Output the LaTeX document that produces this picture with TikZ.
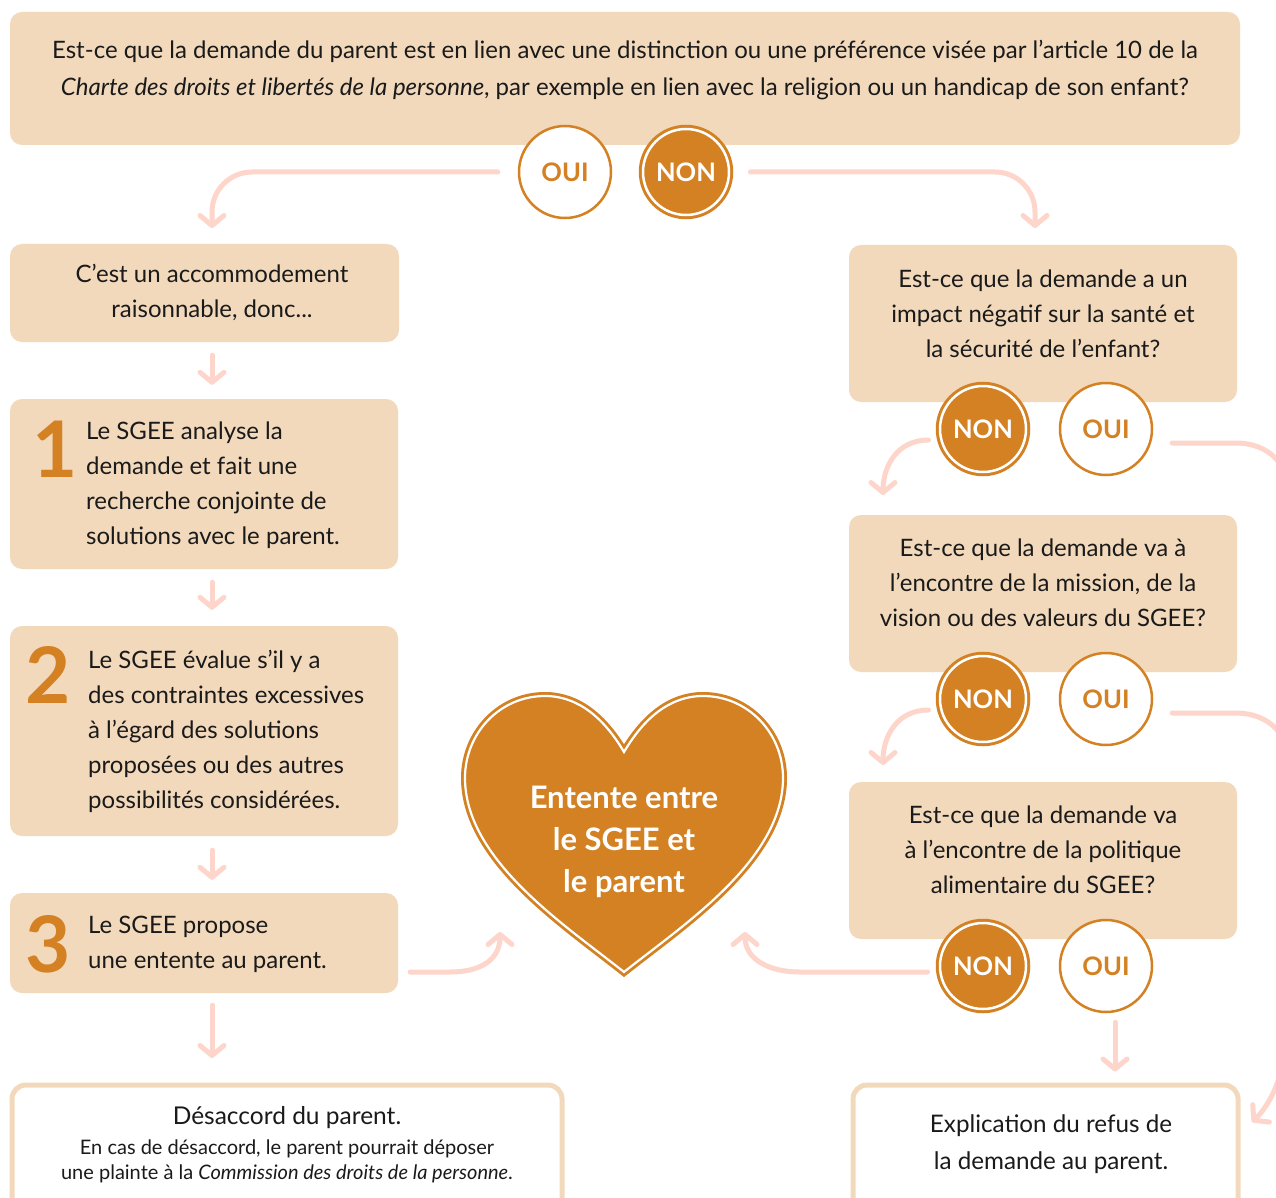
\documentclass[tikz,border=0pt]{standalone}
\usepackage{fontspec}
\setmainfont{Lato}
\usetikzlibrary{arrows.meta}
\definecolor{peach}{HTML}{F2D9BC}
\definecolor{ochre}{HTML}{D48123}
\definecolor{blush}{HTML}{FDD5CB}
\definecolor{ink}{HTML}{1A1A1A}

\begin{document}
\begin{tikzpicture}[x=1pt,y=-1pt,
  card/.style={fill=peach, draw=none, rounded corners=12pt, inner sep=0pt},
  outcard/.style={fill=white, draw=peach, line width=5pt, rounded corners=14pt, inner sep=0pt},
  txt/.style={text=ink, font=\fontsize{24}{35}\selectfont, inner sep=0pt, align=center},
  steptxt/.style={text=ink, font=\fontsize{24}{35}\selectfont, inner sep=0pt, align=left, anchor=west},
  bignum/.style={text=ochre, font=\fontsize{78}{78}\selectfont\bfseries, inner sep=0pt},
  yesmark/.style={circle, minimum size=92pt, inner sep=0pt, fill=white, draw=ochre, line width=2.5pt,
    text=ochre, font=\fontsize{25.5}{25}\selectfont\bfseries},
  nomark/.style={circle, minimum size=86pt, inner sep=0pt, fill=ochre, draw=ochre, double=white,
    double distance=2.5pt, line width=3pt, text=white, font=\fontsize{25.5}{25}\selectfont\bfseries},
  flow/.style={draw=blush, line width=5pt, line cap=round, line join=round,
    -{Straight Barb[length=10pt,width=24pt,round]}},
  trail/.style={draw=blush, line width=5pt, line cap=round, line join=round},
]
\useasboundingbox (0,0) rectangle (1276,1198);
\clip (0,0) rectangle (1276,1198);
\fill[white] (0,0) rectangle (1276,1198);

% ---------- main question ----------
\node[card, minimum width=1230pt, minimum height=133pt] (top) at (625,78.5) {};
\node[txt, font=\fontsize{24}{37}\selectfont] (toptxt) at (625,70) {Est-ce que la demande du parent est en lien avec une distinction ou une préférence visée par l’article 10 de la\\
\textit{Charte des droits et libertés de la personne}, par exemple en lien avec la religion ou un handicap de son enfant?};
\node[yesmark] (yes0) at (565,172) {OUI};
\node[nomark] (no0) at (686,172) {NON};

% ---------- left column: accommodation steps ----------
\node[card, minimum width=389pt, minimum height=98pt] (boxa) at (204.5,293) {};
\node[txt] (boxatxt) at (212,292) {C’est un accommodement\\ raisonnable, donc...};

\node[card, minimum width=388pt, minimum height=170pt] (box1) at (204,484) {};
\node[bignum] (n1) at (55,449) {1};
\node[steptxt] (box1txt) at (86,485.5) {Le SGEE analyse la\\ demande et fait une\\ recherche conjointe de\\ solutions avec le parent.};

\node[card, minimum width=388pt, minimum height=210pt] (box2) at (204,731) {};
\node[bignum] (n2) at (48,675) {2};
\node[steptxt] (box2txt) at (88,731) {Le SGEE évalue s’il y a\\ des contraintes excessives\\ à l’égard des solutions\\ proposées ou des autres\\ possibilités considérées.};

\node[card, minimum width=388pt, minimum height=100pt] (box3) at (204,943) {};
\node[bignum] (n3) at (48,944) {3};
\node[steptxt] (box3txt) at (88,944.5) {Le SGEE propose\\ une entente au parent.};

\node[outcard, minimum width=550pt, minimum height=135pt] (dis) at (287,1152.5) {};
\node[text=ink, font=\fontsize{24.5}{30}\selectfont, inner sep=0pt] (distitle) at (287,1118) {Désaccord du parent.};
\node[text=ink, font=\fontsize{20}{25}\selectfont, inner sep=0pt, align=center] (disnote) at (287,1161) {En cas de désaccord, le parent pourrait déposer\\ une plainte à la \textit{Commission des droits de la personne}.};

% ---------- right column: questions ----------
\node[card, minimum width=388pt, minimum height=157pt] (q1) at (1043,323.5) {};
\node[txt] (q1txt) at (1043,314) {Est-ce que la demande a un\\ impact négatif sur la santé et\\ la sécurité de l’enfant?};
\node[nomark] (no1) at (983,429) {NON};
\node[yesmark] (yes1) at (1106,429) {OUI};

\node[card, minimum width=388pt, minimum height=157pt] (q2) at (1043,593.5) {};
\node[txt] (q2txt) at (1043,583) {Est-ce que la demande va à\\ l’encontre de la mission, de la\\ vision ou des valeurs du SGEE?};
\node[nomark] (no2) at (983,699) {NON};
\node[yesmark] (yes2) at (1106,699) {OUI};

\node[card, minimum width=388pt, minimum height=157pt] (q3) at (1043,860.5) {};
\node[txt] (q3txt) at (1043,850) {Est-ce que la demande va\\ à l’encontre de la politique\\ alimentaire du SGEE?};
\node[nomark] (no3) at (983,966) {NON};
\node[yesmark] (yes3) at (1106,966) {OUI};

\node[outcard, minimum width=385pt, minimum height=135pt] (refus) at (1045.5,1152.5) {};
\node[text=ink, font=\fontsize{24.2}{37}\selectfont, inner sep=0pt, align=center] (refustxt) at (1051,1144.5) {Explication du refus de\\ la demande au parent.};

% ---------- heart ----------
\path[fill=ochre, draw=ochre, line width=8pt, line join=miter]
  (624,752) .. controls (604,718) and (578,696) .. (545,696)
  .. controls (500,696) and (465,733) .. (465,778)
  .. controls (465,860) and (565,925) .. (624,972)
  .. controls (683,925) and (783,860) .. (783,778)
  .. controls (783,733) and (748,696) .. (703,696)
  .. controls (670,696) and (644,718) .. (624,752) -- cycle;
\path[draw=white, line width=2.2pt, line join=miter]
  (624,752) .. controls (604,718) and (578,696) .. (545,696)
  .. controls (500,696) and (465,733) .. (465,778)
  .. controls (465,860) and (565,925) .. (624,972)
  .. controls (683,925) and (783,860) .. (783,778)
  .. controls (783,733) and (748,696) .. (703,696)
  .. controls (670,696) and (644,718) .. (624,752) -- cycle;
\node[text=white, font=\fontsize{31}{42}\selectfont\bfseries, inner sep=0pt, align=center] (deal) at (624,842) {Entente entre\\ le SGEE et\\ le parent};

% ---------- connector end points ----------
\coordinate (tipa) at (212,228);
\coordinate (tipq) at (1035,228);
\coordinate (tipdis) at (212,1058);
\coordinate (tipl) at (500,932);
\coordinate (tipr) at (745,932);
\coordinate (tipq2) at (883,495);
\coordinate (tipq3) at (883,765);
\coordinate (tiprefus) at (1252,1122);

% ---------- connectors ----------
\draw[flow, rounded corners=40pt] ([xshift=-20pt]yes0.west) -| (tipa);
\draw[flow, rounded corners=40pt] ([xshift=20pt]no0.east) -| (tipq);

\draw[flow] ([yshift=-13pt]boxa.south -| tipa) -- ([yshift=14pt]box1.north -| tipa);
\draw[flow] ([yshift=-13pt]box1.south -| tipa) -- ([yshift=16pt]box2.north -| tipa);
\draw[flow] ([yshift=-14pt]box2.south -| tipa) -- ([yshift=13pt]box3.north -| tipa);
\draw[flow] ([yshift=-12pt]box3.south -| tipa) -- (tipdis);

\draw[flow] ([shift={(12,29)}]box3.east) -- ++(40,0) .. controls +(30,0) and +(0,28) .. (tipl);
\draw[flow] ([shift={(-11,6)}]no3.west) -- (800,972) .. controls +(-30,0) and +(0,28) .. (tipr);

\draw[flow] ([shift={(-10,11)}]no1.west) .. controls +(-32,0) and +(0,-28) .. (tipq2);
\draw[flow] ([shift={(-10,11)}]no2.west) .. controls +(-32,0) and +(0,-28) .. (tipq3);

\draw[flow] ([shift={(19,14)}]yes1.east) -- (1235,443)
  .. controls (1270,443) and (1290,465) .. (1290,500) -- (1290,1000)
  .. controls (1290,1060) and (1275,1100) .. (tiprefus);
\draw[trail] ([shift={(19,14)}]yes2.east) -- (1235,713)
  .. controls (1270,713) and (1290,735) .. (1290,770) -- (1290,820);
\draw[flow] ([shift={(9,9)}]yes3.south) -- ([shift={(9,-11)}]refus.north -| yes3.south);
\end{tikzpicture}
\end{document}
